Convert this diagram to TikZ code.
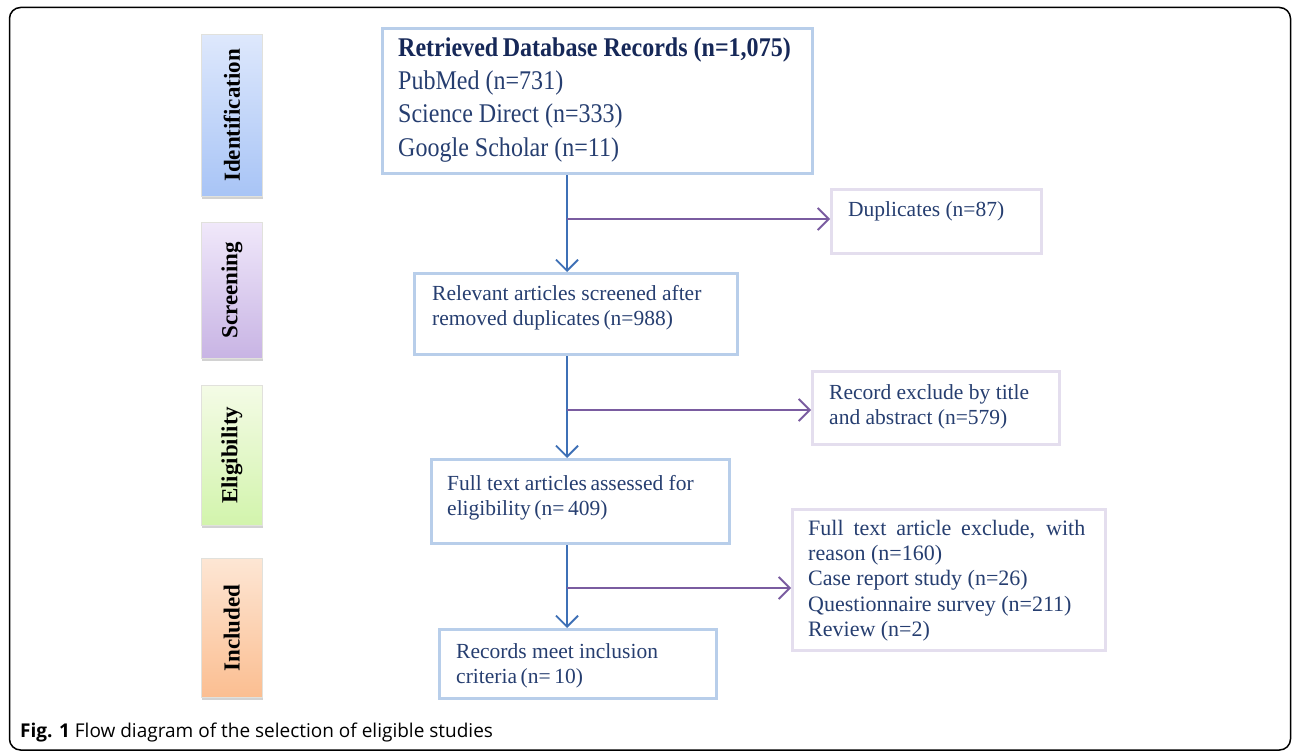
\documentclass[tikz,border=0pt]{standalone}
\usepackage{fontspec}
\setmainfont{Liberation Serif}
\newfontfamily\condserif[FakeStretch=0.89]{Liberation Serif}
\newfontfamily\capfont{Open Sans}
\usetikzlibrary{arrows.meta,shadows}
\definecolor{navy}{RGB}{38,62,112}
\definecolor{navyd}{RGB}{22,40,88}
\definecolor{mainbd}{RGB}{184,206,234}
\definecolor{exbd}{RGB}{228,222,238}
\definecolor{bluearr}{RGB}{62,112,182}
\definecolor{purarr}{RGB}{122,92,160}
\definecolor{idT}{RGB}{222,232,252}\definecolor{idB}{RGB}{168,196,246}
\definecolor{scT}{RGB}{240,232,250}\definecolor{scB}{RGB}{200,180,228}
\definecolor{elT}{RGB}{244,251,230}\definecolor{elB}{RGB}{210,244,172}
\definecolor{inT}{RGB}{253,230,212}\definecolor{inB}{RGB}{251,190,145}
\begin{document}
\begin{tikzpicture}[x=1pt,y=-1pt,
  mainbox/.style={draw=mainbd,line width=3.2pt,rectangle,anchor=north west,inner sep=0pt},
  exbox/.style={draw=exbd,line width=3pt,rectangle,anchor=north west,inner sep=0pt},
  phase/.style={draw={rgb,255:red,225;green,225;blue,220},line width=0.8pt,anchor=north west,inner sep=0pt,
    minimum width=61pt,drop shadow={shadow xshift=1pt,shadow yshift=-3pt,opacity=0.35}},
  phlabel/.style={rotate=90,font=\fontsize{23}{26}\selectfont\bfseries,text=black,inner sep=0pt},
  ln/.style={anchor=base west,inner sep=0pt,text=navy},
  vflow/.style={draw=bluearr,line width=1.8pt,-{Straight Barb[length=11pt,width=22pt,line width=1.8pt]}},
  hflow/.style={draw=purarr,line width=1.8pt,-{Straight Barb[length=11pt,width=22pt,line width=1.8pt]}}]
\useasboundingbox (0,0) rectangle (1292,751);
\fill[white] (0,0) rectangle (1292,751);
% frame
\draw[line width=1.5pt,rounded corners=11pt] (9.5,7.5) rectangle (1290.5,750);

% phase boxes
\node[phase,minimum height=162pt,top color=idT,bottom color=idB] (ph1) at (201,34) {};
\node[phlabel] (pl1) at (ph1.center) {Identification};
\node[phase,minimum height=136pt,top color=scT,bottom color=scB] (ph2) at (201,222) {};
\node[phlabel] (pl2) at (ph2.center) {Screening};
\node[phase,minimum height=140pt,top color=elT,bottom color=elB] (ph3) at (201,385) {};
\node[phlabel] (pl3) at (ph3.center) {Eligibility};
\node[phase,minimum height=139pt,top color=inT,bottom color=inB] (ph4) at (201,558) {};
\node[phlabel] (pl4) at (ph4.center) {Included};

% main boxes
\node[mainbox,minimum width=430pt,minimum height=145pt] (b1) at (381,27) {};
\node[mainbox,minimum width=323pt,minimum height=81pt] (b2) at (413,272) {};
\node[mainbox,minimum width=298pt,minimum height=84pt] (b3) at (430,458) {};
\node[mainbox,minimum width=277pt,minimum height=69pt] (b4) at (438,628) {};
% exclusion boxes
\node[exbox,minimum width=210pt,minimum height=64pt] (e1) at (830,188) {};
\node[exbox,minimum width=247pt,minimum height=73pt] (e2) at (811,370) {};
\node[exbox,minimum width=313pt,minimum height=141pt] (e3) at (791,508) {};

% texts box 1
\begin{scope}[font=\condserif\fontsize{27}{33}\selectfont]
\node[ln,text=navyd,font=\condserif\fontsize{27}{33}\selectfont\bfseries] (t11) at (398,57) {Retrieved\,Database Records (n=1,075)};
\node[ln] (t12) at (398,90) {PubMed (n=731)};
\node[ln] (t13) at (398,123) {Science Direct (n=333)};
\node[ln] (t14) at (398,157) {Google Scholar (n=11)};
\end{scope}
\begin{scope}[font=\fontsize{21.5}{26}\selectfont]
\node[ln] (t21) at (432,300) {Relevant articles screened after};
\node[ln] (t22) at (432,325) {removed duplicates\,(n=988)};
\node[ln] (t31) at (447,490) {Full text articles\,assessed for};
\node[ln] (t32) at (447,515) {eligibility\,(n=\,409)};
\node[ln] (t41) at (456,658) {Records meet inclusion};
\node[ln] (t42) at (456,683) {criteria\,(n=\,10)};
\node[ln] (te1) at (848,217) {Duplicates (n=87)};
\node[ln] (te21) at (829,399) {Record exclude by title};
\node[ln] (te22) at (829,424) {and abstract (n=579)};
\end{scope}
\begin{scope}[font=\fontsize{22}{26}\selectfont]
\node[ln] (te31) at (808,535) {\makebox[277pt][s]{Full text article exclude, with}};
\node[ln] (te32) at (808,560) {reason (n=160)};
\node[ln] (te33) at (808,585) {Case report study (n=26)};
\node[ln] (te34) at (808,611) {Questionnaire survey (n=211)};
\node[ln] (te35) at (808,636) {Review (n=2)};
\end{scope}

% connectors
\coordinate (j1) at (567,219);
\draw[vflow] (b1.south -| j1) -- (b2.north -| j1);
\draw[hflow] (j1) -- (e1.west |- j1);
\coordinate (j2) at (567,410);
\draw[vflow] (b2.south -| j2) -- (b3.north -| j2);
\draw[hflow] (j2) -- (e2.west |- j2);
\coordinate (j3) at (567,588);
\draw[vflow] (b3.south -| j3) -- (b4.north -| j3);
\draw[hflow] (j3) -- (e3.west |- j3);

% caption
\node[anchor=base west,inner sep=0pt,font=\capfont\fontsize{19}{22}\selectfont] (cap) at (20,737) {\textbf{Fig. 1} Flow diagram of the selection of eligible studies};
\end{tikzpicture}
\end{document}
